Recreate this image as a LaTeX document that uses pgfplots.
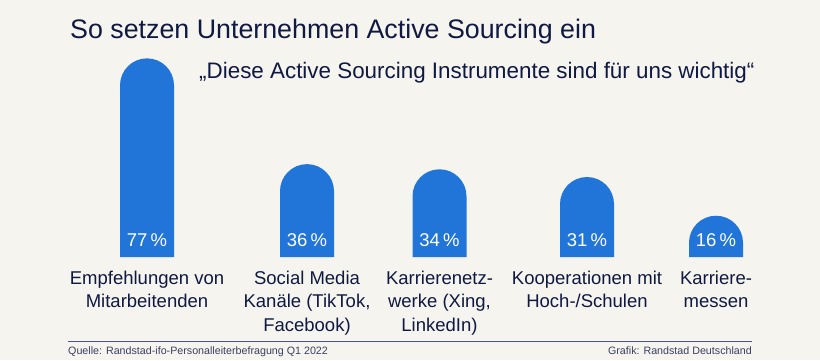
\documentclass[border=0pt]{standalone}
\usepackage{pgfplots}
\usepackage{pgfplotstable}
\pgfplotsset{compat=1.18}
\usepackage{fontspec}
\setmainfont{Liberation Sans}
\definecolor{bg}{HTML}{F5F4EF}
\definecolor{barblue}{HTML}{2175D9}
\definecolor{navy}{HTML}{0F1941}
\definecolor{foot}{HTML}{3A4060}
\definecolor{rulec}{HTML}{4B5482}

% bar with a rounded (semicircular) top; the mark sits at the top of the bar
\pgfdeclareplotmark{capbar}{%
  \pgfpathmoveto{\pgfpoint{-27pt}{-\barlen pt}}%
  \pgfpathlineto{\pgfpoint{-27pt}{-27pt}}%
  \pgfpatharc{180}{0}{27pt}%
  \pgfpathlineto{\pgfpoint{27pt}{-\barlen pt}}%
  \pgfpathclose
  \pgfusepathqfill
}

\pgfplotstableread{
x val ly
147 77 3.88
307 36 3.88
439.5 34 3.88
587 31 3.88
716 16 3.88
}\data

\begin{document}
\begin{tikzpicture}
\begin{axis}[
  at={(0,0)}, anchor=south west,
  scale only axis, width=820pt, height=360pt,
  xmin=0, xmax=820, ymin=-39.922, ymax=99.612,
  axis x line=middle, axis y line=none,
  x axis line style={draw=none},
  axis background/.style={fill=bg},
  xtick=data, major tick length=0pt, ytick=\empty,
  xticklabels={{Empfehlungen von\\Mitarbeitenden},{Social Media\\Kanäle (TikTok,\\Facebook)},{Karrierenetz-\\werke (Xing,\\LinkedIn)},{Kooperationen mit\\Hoch-/Schulen},{Karriere-\\messen}},
  xticklabel style={font=\fontsize{18.5}{23.5}\selectfont, color=navy, align=center, anchor=north, inner sep=0pt, yshift=-13.5pt},
  clip=false,
]
\addplot[only marks, mark=capbar, color=barblue,
  visualization depends on={2.58*\thisrow{val} \as \barlen}]
  table[x=x, y=val] {\data};
\addplot[draw=none, mark=none, point meta=explicit symbolic,
  nodes near coords={\pgfplotspointmeta\,\%},
  nodes near coords align=center,
  every node near coord/.append style={anchor=base, font=\fontsize{18.5}{22}\selectfont, color=white, inner sep=0pt}]
  table[x=x, y=ly, meta=val] {\data};

\node[anchor=base west, inner sep=0pt, font=\fontsize{26.8}{30}\selectfont, color=navy] at (axis cs:70,84.69) {So setzen Unternehmen Active Sourcing ein};
\node[anchor=base west, inner sep=0pt, font=\fontsize{22.4}{26}\selectfont, color=navy] at (axis cs:199,69.26) {„Diese Active Sourcing Instrumente sind für uns wichtig“};
\draw[rulec, line width=1pt] (axis cs:68,-32.83) -- (axis cs:752,-32.83);
\node[anchor=base west, inner sep=0pt, font=\fontsize{10.7}{12}\selectfont, color=foot] at (axis cs:68,-37.98) {Quelle: Randstad-ifo-Personalleiterbefragung Q1 2022};
\node[anchor=base east, inner sep=0pt, font=\fontsize{10.7}{12}\selectfont, color=foot] at (axis cs:752,-37.98) {Grafik: Randstad Deutschland};
\end{axis}
\pgfresetboundingbox
\path (0,0) rectangle (820pt,360pt);
\end{tikzpicture}
\end{document}
